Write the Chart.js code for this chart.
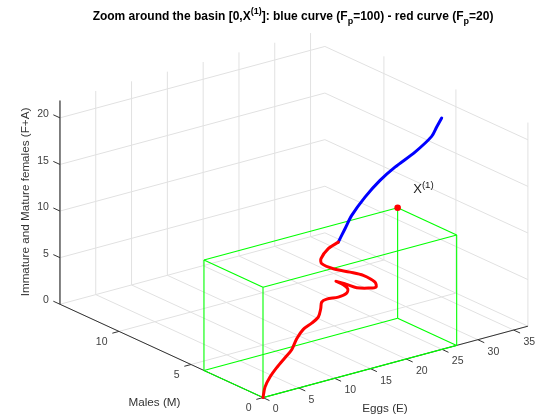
<!DOCTYPE html>
<html><head><meta charset="utf-8">
<style>html,body{margin:0;padding:0;background:#fff}canvas{display:block}</style>
<script src="https://cdn.jsdelivr.net/npm/chart.js@4"></script>
</head><body><canvas id="c" width="538" height="415"></canvas>
<script>
// Data (Eggs, Males, Immature+Mature females)
const redE=[0,0.68,1.78,3.12,4.68,6.02,6.92,8.24,9.82,11.14,11.68,12.02,12.92,14.74,16.11,16.46,16.04,15.22,16.92,18.52,20.34,21.61,21.68,20.24,18.59,16.46,15.04,15.14,16.56,18.36];
const redM=[0,0.2,0.4,0.6,0.8,1.0,1.1,1.3,1.5,1.7,1.8,1.9,2.0,2.1,2.2,2.3,2.4,2.5,2.6,2.7,2.8,2.9,3.0,3.1,3.2,3.3,3.4,3.5,3.7,3.9];
const redF=[0,0.84,1.55,2.14,2.74,3.18,4.10,4.69,4.89,5.12,5.84,6.41,6.47,6.24,6.31,6.64,7.09,7.57,6.8,6.04,5.55,5.32,5.77,6.72,7.34,8.07,8.84,9.28,9.92,10.11];
const blueE=[18.36,19.7,21.04,23.5,26.2,28.89,32.29,34.82,35.72,36.62];
const blueM=[3.9,4.1,4.3,4.6,4.9,5.2,5.5,5.6,5.7,5.8];
const blueF=[10.11,11.13,12.14,13.38,14.40,15.05,15.75,16.84,17.58,18.29];
const basinX1=[27.05,4.1,11.85];
const eTicks=[0,5,10,15,20,25,30,35];
const mTicks=[0,5,10];
const fTicks=[0,5,10,15,20];
const eMax=37, mMax=14.1, fMax=21.85;

// Orthographic view of the box
const ex=7.16, ey=1.93, mx=-14.4, my=6.62, fy=9.32;
const P=(e,m,f)=>({x:ex*e+mx*m, y:ey*e+my*m+fy*f});
const seg=(a,b,color,w)=>({type:'scatter',showLine:true,pointRadius:0,borderColor:color,borderWidth:w,data:[P(...a),P(...b)],tension:0,parsing:false});
const GRID='#e1e1e1', AX='#333333', FAX='#666666', GR='#00ff00';
const ds=[];
// grid: floor + two back walls
eTicks.forEach(e=>{ds.push(seg([e,0,0],[e,mMax,0],GRID,1));ds.push(seg([e,mMax,0],[e,mMax,fMax],GRID,1));});
mTicks.forEach(m=>{ds.push(seg([0,m,0],[eMax,m,0],GRID,1));ds.push(seg([eMax,m,0],[eMax,m,fMax],GRID,1));});
fTicks.forEach(f=>{ds.push(seg([0,mMax,f],[eMax,mMax,f],GRID,1));ds.push(seg([eMax,mMax,f],[eMax,0,f],GRID,1));});
// axes
ds.push(seg([0,0,0],[eMax,0,0],AX,1));
ds.push(seg([0,0,0],[0,mMax,0],AX,1));
ds.push(seg([0,mMax,0],[0,mMax,fMax],FAX,1.6));
eTicks.forEach(e=>ds.push(seg([e,0,0],[e,-0.45,0],AX,1)));
mTicks.forEach(m=>ds.push(seg([0,m,0],[-0.93,m,0],AX,1)));
fTicks.forEach(f=>ds.push(seg([0,mMax,f],[0,mMax+0.46,f],AX,1)));
// green box of the basin [0,X1]
const [bE,bM,bF]=basinX1;
const edges=[[[0,0,0],[bE,0,0]],[[0,0,0],[0,bM,0]],[[bE,0,0],[bE,bM,0]],[[0,bM,0],[bE,bM,0]],
[[0,0,bF],[bE,0,bF]],[[0,0,bF],[0,bM,bF]],[[bE,0,bF],[bE,bM,bF]],[[0,bM,bF],[bE,bM,bF]],
[[0,0,0],[0,0,bF]],[[bE,0,0],[bE,0,bF]],[[0,bM,0],[0,bM,bF]],[[bE,bM,0],[bE,bM,bF]]];
edges.forEach(a=>ds.push(seg(a[0],a[1],GR,1.1)));
// curves
const curve=(c,d)=>({type:'scatter',showLine:true,pointRadius:0,borderColor:c,borderWidth:3,tension:0.3,parsing:false,borderCapStyle:'round',borderJoinStyle:'round',data:d});
ds.push(curve('#0000ff',blueE.map((e,i)=>P(e,blueM[i],blueF[i]))));
ds.push(curve('#ff0000',redE.map((e,i)=>P(e,redM[i],redF[i]))));
ds.push({type:'scatter',showLine:false,pointRadius:3.3,borderWidth:0,pointBackgroundColor:'#ff0000',pointBorderColor:'#ff0000',parsing:false,data:[P(bE,bM,bF)]});
ds.reverse(); // Chart.js paints the first dataset last

const FONT='"Liberation Sans",Arial,sans-serif';
function runs(ctx,parts,x,y,size,weight,color){ // parts: [text,mode]; centered on x
  const w=p=>{ctx.font=`${weight} ${p[1]?size*0.75:size}px ${FONT}`;return ctx.measureText(p[0]).width;};
  let tot=parts.reduce((s,p)=>s+w(p),0), cx=x-tot/2;
  ctx.fillStyle=color;ctx.textBaseline='alphabetic';ctx.textAlign='left';
  parts.forEach(p=>{const ww=w(p);ctx.fillText(p[0],cx,y+(p[1]==='sup'?-size*0.42:p[1]==='sub'?size*0.35:0));cx+=ww;});
}
const textPlugin={id:'texts',afterDraw(ch){
  const ctx=ch.ctx,sx=ch.scales.x,sy=ch.scales.y;
  const px=(e,m,f)=>{const p=P(e,m,f);return [sx.getPixelForValue(p.x),sy.getPixelForValue(p.y)];};
  ctx.save();
  runs(ctx,[['Zoom around the basin [0,X'],['(1)','sup'],[']: blue curve (F'],['p','sub'],['=100) - red curve (F'],['p','sub'],['=20)']],293,19.5,12,'bold','#000');
  ctx.font=`10.5px ${FONT}`;ctx.fillStyle='#404040';ctx.textBaseline='middle';
  ctx.textAlign='left';
  eTicks.forEach(e=>{const [x,y]=px(e,0,0);ctx.fillText(String(e),x+9.8,y+12);});
  ctx.textAlign='right';
  mTicks.forEach(m=>{const [x,y]=px(0,m,0);ctx.fillText(String(m),x-11.5,y+10.6);});
  fTicks.forEach(f=>{const [x,y]=px(0,mMax,f);ctx.fillText(String(f),x-11,y-3.7);});
  ctx.textAlign='center';ctx.font=`11.7px ${FONT}`;
  ctx.fillStyle='#333333';
  ctx.fillText('Eggs (E)',385,408.7);
  ctx.fillText('Males (M)',154.5,403);
  ctx.save();ctx.translate(26,202);ctx.rotate(-Math.PI/2);ctx.fillText('Immature and Mature females (F+A)',0,0);ctx.restore();
  runs(ctx,[['X'],['(1)','sup']],423.5,193.3,13,'normal','#1a1a1a');
  ctx.restore();
}};
new Chart(document.getElementById('c'),{
  type:'scatter',
  data:{datasets:ds},
  options:{responsive:false,animation:false,devicePixelRatio:1,
    layout:{padding:0,autoPadding:false},
    plugins:{legend:{display:false},tooltip:{enabled:false},title:{display:false}},
    scales:{x:{type:'linear',display:false,min:-263,max:275},y:{type:'linear',display:false,min:-17.4,max:397.6}}
  },
  plugins:[textPlugin]
});
</script></body></html>
